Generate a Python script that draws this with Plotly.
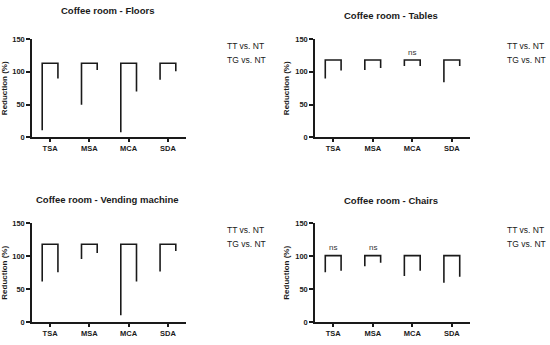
import plotly.graph_objects as go

W, H = 550, 345

categories = ["TSA", "MSA", "MCA", "SDA"]
panel_titles = ["Coffee room - Floors", "Coffee room - Tables",
                "Coffee room - Vending machine", "Coffee room - Chairs"]
series_names = ["TT vs. NT", "TG vs. NT"]

floors_tt = [11, 50, 8, 88]
floors_tg = [90, 103, 70, 101]
floors_top = [113, 113, 113, 113]
floors_ns = ["", "", "", ""]

tables_tt = [90, 103, 109, 84]
tables_tg = [102, 106, 109, 109]
tables_top = [118, 118, 118, 118]
tables_ns = ["", "", "ns", ""]

vending_tt = [62, 96, 11, 77]
vending_tg = [76, 105, 62, 108]
vending_top = [118, 118, 118, 118]
vending_ns = ["", "", "", ""]

chairs_tt = [76, 85, 70, 60]
chairs_tg = [78, 90, 78, 69]
chairs_top = [101, 101, 101, 101]
chairs_ns = ["ns", "ns", "", ""]

y_ticks = [0, 50, 100, 150]
y_title = "Reduction (%)"

panels = [
    dict(title=panel_titles[0], tt=floors_tt, tg=floors_tg, top=floors_top, ns=floors_ns,
         px=(32, 186), py=(36, 137), tpos=(107, 7), leg=(225, 43)),
    dict(title=panel_titles[1], tt=tables_tt, tg=tables_tg, top=tables_top, ns=tables_ns,
         px=(315, 470), py=(36, 137), tpos=(391, 12), leg=(505, 43)),
    dict(title=panel_titles[2], tt=vending_tt, tg=vending_tg, top=vending_top, ns=vending_ns,
         px=(32, 186), py=(225, 327), tpos=(107, 201), leg=(225, 232)),
    dict(title=panel_titles[3], tt=chairs_tt, tg=chairs_tg, top=chairs_top, ns=chairs_ns,
         px=(315, 470), py=(225, 327), tpos=(391, 202), leg=(505, 232)),
]

def fx(p):
    return p / W

def fy(p):
    return 1 - p / H

FONT = "Liberation Sans, Arial, sans-serif"
INK = "#1a1a1a"
OFF = 0.2

fig = go.Figure()
annotations = []
layout = {}

for k, p in enumerate(panels):
    n = "" if k == 0 else str(k + 1)
    xa, ya = "x" + n, "y" + n
    for i, c in enumerate(categories):
        fig.add_trace(go.Scatter(
            x=[i - OFF, i - OFF, i + OFF, i + OFF],
            y=[p["tt"][i], p["top"][i], p["top"][i], p["tg"][i]],
            mode="lines", line=dict(color=INK, width=1.6),
            xaxis=xa, yaxis=ya, showlegend=False, hoverinfo="skip"))
        if p["ns"][i]:
            annotations.append(dict(x=i, y=p["top"][i] + 12, xref=xa, yref=ya,
                                    text=p["ns"][i], showarrow=False,
                                    font=dict(family=FONT, size=8, color="#333")))
    layout["xaxis" + n] = dict(
        domain=[fx(p["px"][0]), fx(p["px"][1])], anchor=ya,
        range=[-0.46, 3.46], tickvals=list(range(len(categories))), ticktext=categories,
        showline=True, linecolor=INK, linewidth=1.5, ticks="outside", ticklen=3,
        tickwidth=1.5, tickcolor=INK, showgrid=False, zeroline=False,
        tickfont=dict(family=FONT, size=7.5, color=INK, weight="bold"), fixedrange=True)
    layout["yaxis" + n] = dict(
        domain=[fy(p["py"][1]), fy(p["py"][0])], anchor=xa,
        range=[0, 150], tickvals=y_ticks, showline=True, linecolor=INK, linewidth=1.5,
        ticks="outside", ticklen=4, tickwidth=1.5, tickcolor=INK, showgrid=False,
        zeroline=False, tickfont=dict(family=FONT, size=7.5, color=INK, weight="bold"),
        title=dict(text=y_title, standoff=4,
                   font=dict(family=FONT, size=8, color=INK, weight="bold")),
        fixedrange=True)
    annotations.append(dict(x=fx(p["tpos"][0]), y=fy(p["tpos"][1]), xref="paper", yref="paper",
                            text="<b>" + p["title"] + "</b>", showarrow=False,
                            xanchor="center", yanchor="middle",
                            font=dict(family=FONT, size=9.5, color=INK)))
    for j, s in enumerate(series_names):
        annotations.append(dict(x=fx(p["leg"][0]), y=fy(p["leg"][1] + 14 * j), xref="paper",
                                yref="paper", text=s, showarrow=False, xanchor="left",
                                yanchor="middle", font=dict(family=FONT, size=8.5, color=INK)))

fig.update_layout(
    width=W, height=H, margin=dict(l=0, r=0, t=0, b=0),
    plot_bgcolor="white", paper_bgcolor="white", showlegend=False,
    annotations=annotations, **layout)

fig.write_html("out.html", config={"displayModeBar": False},
               post_script="document.body.style.margin='0';document.body.style.padding='0';")
